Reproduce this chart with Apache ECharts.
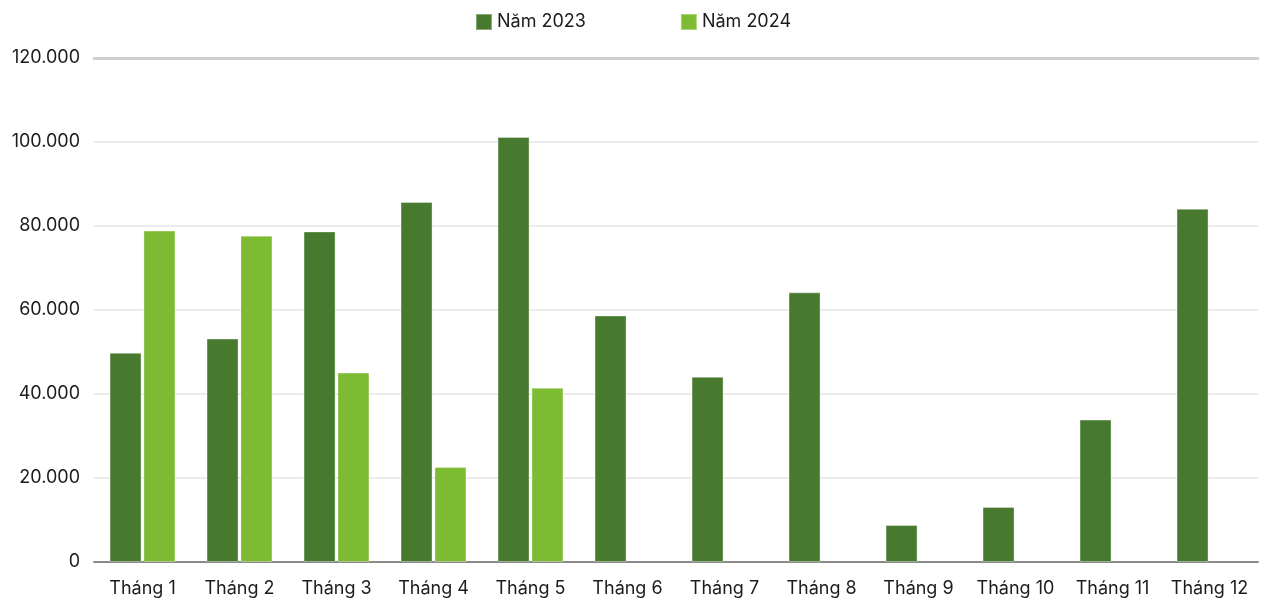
<!DOCTYPE html>
<html>
<head>
<meta charset="utf-8">
<script src="https://cdn.jsdelivr.net/npm/echarts@6/dist/echarts.min.js"></script>
<style>
  html, body { margin: 0; padding: 0; background: #ffffff; }
  #chart { width: 1266px; height: 601px; }
</style>
</head>
<body>
<div id="chart"></div>
<script>
// Monthly values for both years
const months = ['Tháng 1', 'Tháng 2', 'Tháng 3', 'Tháng 4', 'Tháng 5', 'Tháng 6',
                'Tháng 7', 'Tháng 8', 'Tháng 9', 'Tháng 10', 'Tháng 11', 'Tháng 12'];
const values2023 = [49800, 53200, 78700, 85700, 101200, 58700, 44100, 64200, 8800, 13100, 33900, 84100];
const values2024 = [78900, 77700, 45100, 22600, 41500, null, null, null, null, null, null, null];
const seriesNames = ['Năm 2023', 'Năm 2024'];
const yTicks = { min: 0, max: 120000, step: 20000 };

const FONT = 'Inter, "Noto Sans", sans-serif';
const fmt = v => String(v).replace(/\B(?=(\d{3})+(?!\d))/g, '.');

const chart = echarts.init(document.getElementById('chart'), null, { renderer: 'canvas' });

chart.setOption({
  animation: false,
  backgroundColor: '#ffffff',
  color: ['#477a2e', '#7dbb33'],
  legend: {
    top: 8,
    left: 'center',
    itemWidth: 16,
    itemHeight: 16,
    itemGap: 94,
    icon: 'rect',
    textStyle: { fontFamily: FONT, fontSize: 18, color: '#1c1c1c' },
    data: seriesNames
  },
  grid: { left: 94, right: 8, top: 58, bottom: 39, containLabel: false },
  xAxis: [{
    type: 'category',
    data: months,
    axisTick: { show: false },
    axisLine: { show: true, lineStyle: { color: '#8a8a8a', width: 2 } },
    axisLabel: { interval: 0, fontFamily: FONT, fontSize: 18, color: '#1c1c1c', margin: 18 }
  }, {
    type: 'category',
    position: 'top',
    data: months,
    axisTick: { show: false },
    axisLabel: { show: false },
    axisLine: { show: true, lineStyle: { color: '#cfcfcf', width: 3 } }
  }],
  yAxis: {
    type: 'value',
    min: yTicks.min,
    max: yTicks.max,
    interval: yTicks.step,
    axisLine: { show: false },
    axisTick: { show: false },
    splitLine: { lineStyle: { color: '#ececec', width: 2 } },
    axisLabel: {
      fontFamily: FONT, fontSize: 18, color: '#1c1c1c', margin: 14,
      formatter: v => fmt(v)
    }
  },
  series: [
    {
      name: seriesNames[0],
      type: 'bar',
      data: values2023,
      barWidth: 32,
      barGap: '6%',
      itemStyle: { borderColor: 'rgba(255,255,255,0.35)', borderWidth: 1 }
    },
    {
      name: seriesNames[1],
      type: 'bar',
      data: values2024,
      barWidth: 32,
      barGap: '6%',
      itemStyle: { borderColor: 'rgba(255,255,255,0.35)', borderWidth: 1 }
    }
  ]
});
</script>
</body>
</html>
